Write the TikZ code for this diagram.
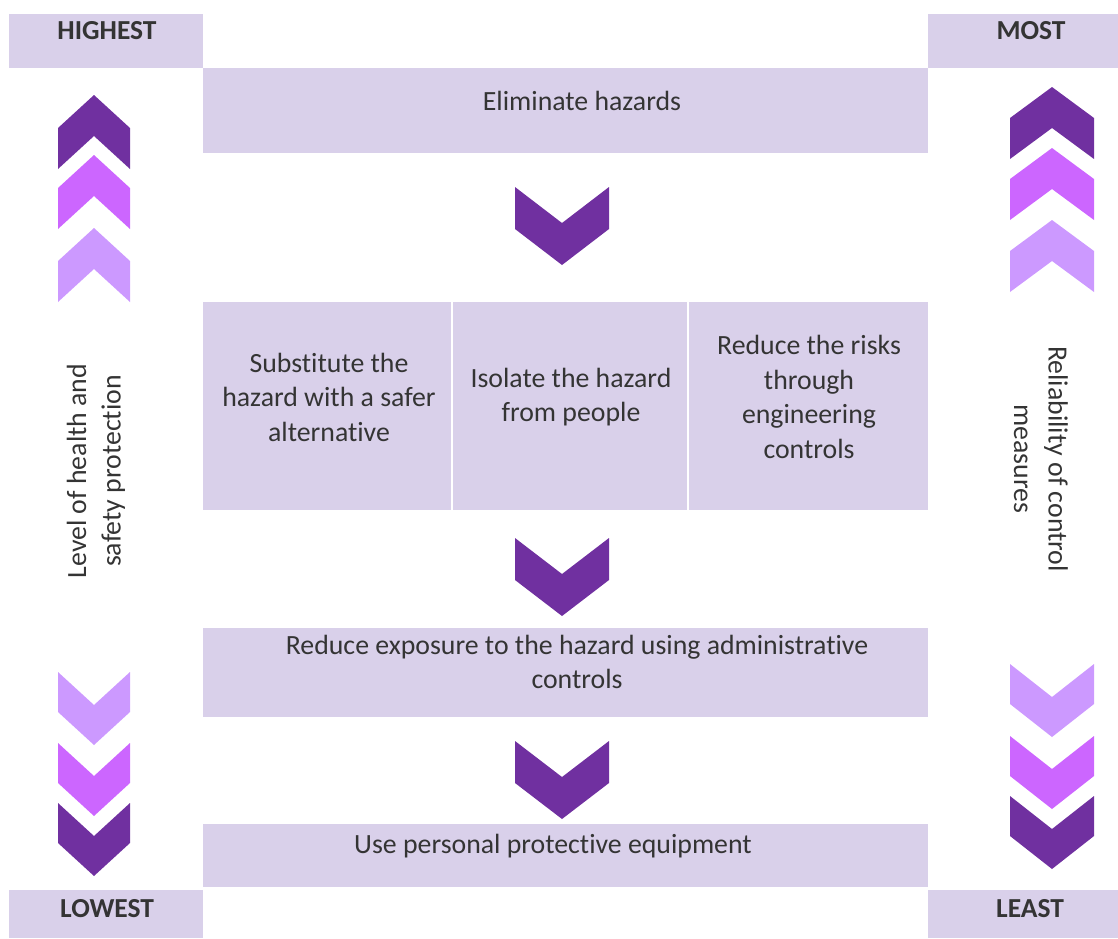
\documentclass[tikz,border=0pt]{standalone}
\usepackage{fontspec}
\setmainfont{Carlito}[Ligatures=NoCommon]

\definecolor{boxfill}{RGB}{217,208,234}
\definecolor{deep}{RGB}{112,48,160}
\definecolor{mid}{RGB}{204,102,255}
\definecolor{pale}{RGB}{204,153,255}
\definecolor{ink}{RGB}{52,52,52}

% upward chevron: centre x, tip y, half width, shoulder drop, thickness, colour
\newcommand\ChevUp[6]{%
  \fill[#6] (#1,#2) -- (#1+#3,#2+#4) -- (#1+#3,#2+#4+#5) -- (#1,#2+#5)
            -- (#1-#3,#2+#4+#5) -- (#1-#3,#2+#4) -- cycle;}
% downward chevron: centre x, top y, half width, notch depth, thickness, colour
\newcommand\ChevDown[6]{%
  \fill[#6] (#1-#3,#2) -- (#1,#2+#4) -- (#1+#3,#2) -- (#1+#3,#2+#5)
            -- (#1,#2+#4+#5) -- (#1-#3,#2+#5) -- cycle;}

\tikzset{
  panel/.style={rectangle, fill=boxfill, inner sep=0pt, outer sep=0pt},
  body/.style={text=ink, align=center, inner sep=0pt,
               font=\fontsize{27.8}{34.5}\selectfont},
  tag/.style={text=ink, inner sep=0pt, anchor=base,
              font=\fontsize{27.5}{30}\selectfont\bfseries},
}

\begin{document}
\begin{tikzpicture}[x=1pt,y=-1pt]
\useasboundingbox (0,0) rectangle (1118,938);

% corner labels
\node[panel, minimum width=194pt, minimum height=54pt] (high)  at (106,41)   {};
\node[panel, minimum width=190pt, minimum height=54pt] (most)  at (1023,41)  {};
\node[panel, minimum width=194pt, minimum height=48pt] (low)   at (106,914)  {};
\node[panel, minimum width=190pt, minimum height=48pt] (least) at (1023,914) {};
\node[tag] (hightxt)  at (107,39)  {HIGHEST};
\node[tag] (mosttxt)  at (1031,39) {MOST};
\node[tag] (lowtxt)   at (107,917) {LOWEST};
\node[tag] (leasttxt) at (1030,917) {LEAST};

% hierarchy of controls
\node[panel, minimum width=725pt, minimum height=85pt]  (elim)  at (565.5,110.5) {};
\node[panel, minimum width=248pt, minimum height=208pt] (sub)   at (327,406)     {};
\node[panel, minimum width=234pt, minimum height=208pt] (iso)   at (570,406)     {};
\node[panel, minimum width=239pt, minimum height=208pt] (eng)   at (808.5,406)   {};
\node[panel, minimum width=725pt, minimum height=89pt]  (admin) at (565.5,672.5) {};
\node[panel, minimum width=725pt, minimum height=63pt]  (ppe)   at (565.5,855.5) {};

\node[body] (elimtxt)  at (582,101) {Eliminate hazards};
\node[body] (subtxt)   at (329,397) {Substitute the\\hazard with a safer\\alternative};
\node[body] (isotxt)   at (571,397) {Isolate the hazard\\from people};
\node[body] (engtxt)   at (809,397) {Reduce the risks\\through\\engineering\\controls};
\node[body] (admintxt) at (577,662) {Reduce exposure to the hazard using administrative\\controls};
\node[body] (ppetxt)   at (553,846) {Use personal protective equipment};

% flow chevrons between the levels
\ChevDown{562}{187}{47}{36}{42}{deep}
\ChevDown{562}{538}{47}{36}{42}{deep}
\ChevDown{562}{741}{47}{36}{42}{deep}

% side scales
\node[body, rotate=90]  (leftaxis)  at (96,471)   {Level of health and\\safety protection};
\node[body, rotate=-90] (rightaxis) at (1041,459) {Reliability of control\\measures};

\ChevUp{94}{95}{36}{33}{41}{deep}
\ChevUp{94}{155}{36}{33}{41}{mid}
\ChevUp{94}{228}{36}{33}{41}{pale}
\ChevDown{94}{672}{36}{33}{40}{pale}
\ChevDown{94}{743}{36}{33}{40}{mid}
\ChevDown{94}{803}{36}{33}{40}{deep}

\ChevUp{1052}{87}{42}{31}{41}{deep}
\ChevUp{1052}{148}{42}{31}{41}{mid}
\ChevUp{1052}{220}{42}{31}{41}{pale}
\ChevDown{1052}{664}{42}{33}{40}{pale}
\ChevDown{1052}{736}{42}{33}{40}{mid}
\ChevDown{1052}{796}{42}{33}{40}{deep}
\end{tikzpicture}
\end{document}
